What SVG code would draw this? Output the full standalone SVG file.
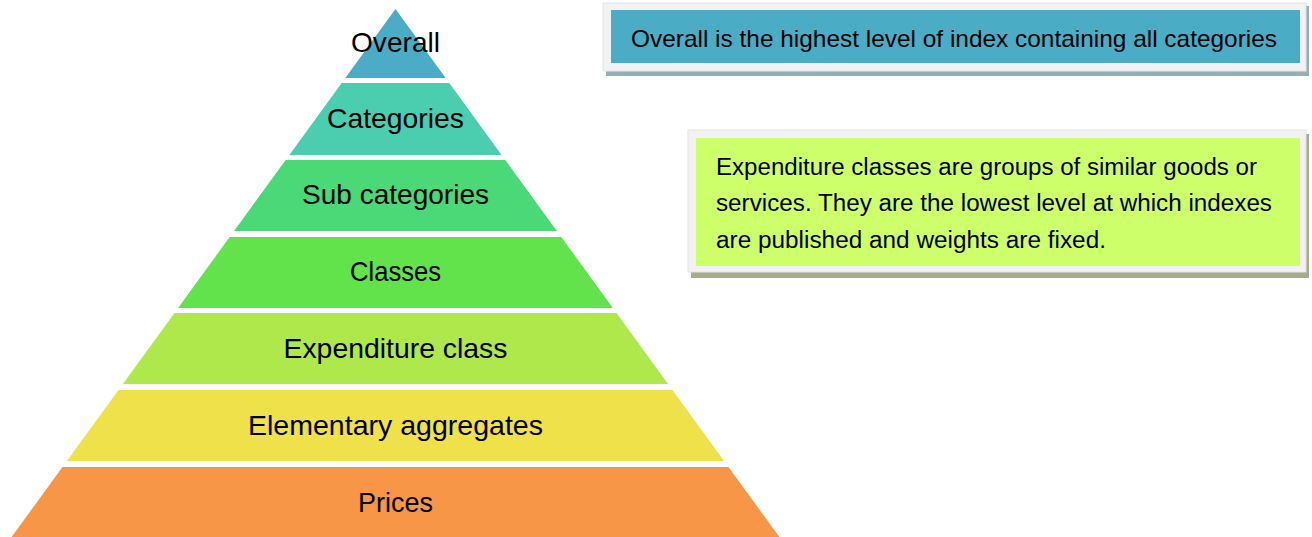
<svg xmlns="http://www.w3.org/2000/svg" width="1312" height="537" viewBox="0 0 1312 537">
<style>
.lvl{font-family:"Liberation Sans",Arial,sans-serif;font-size:28px;fill:#000;text-anchor:middle}
.note{font-family:"Liberation Sans",Arial,sans-serif;font-size:23px;fill:#000}
.frame{fill:#F2F2F2;stroke:#E4E4E4;stroke-width:1}
</style>
<rect width="1312" height="537" fill="#FFFFFF"/>
<g id="pyramid">
<g id="overall"><polygon points="395.5,9 445.7,78 345.3,78" fill="#4BACC6"/><text class="lvl" x="395.5" y="52" textLength="89" lengthAdjust="spacingAndGlyphs">Overall</text></g>
<g id="categories"><polygon points="341.7,83 449.3,83 501.6,155 289.4,155" fill="#4BCDB0"/><text class="lvl" x="395.5" y="128" textLength="137" lengthAdjust="spacingAndGlyphs">Categories</text></g>
<g id="subcategories"><polygon points="285.7,160 505.3,160 556.9,231 234.1,231" fill="#4BD977"/><text class="lvl" x="395.5" y="204" textLength="187" lengthAdjust="spacingAndGlyphs">Sub categories</text></g>
<g id="classes"><polygon points="229.7,237 561.3,237 612.9,308 178.1,308" fill="#62E24B"/><text class="lvl" x="395.5" y="281" textLength="91" lengthAdjust="spacingAndGlyphs">Classes</text></g>
<g id="expenditure"><polygon points="174.5,313 616.5,313 668.1,384 122.9,384" fill="#AEE84B"/><text class="lvl" x="395.5" y="358" textLength="224" lengthAdjust="spacingAndGlyphs">Expenditure class</text></g>
<g id="elementary"><polygon points="118.5,390 672.5,390 724.1,461 66.9,461" fill="#EFE149"/><text class="lvl" x="395.5" y="435" textLength="295" lengthAdjust="spacingAndGlyphs">Elementary aggregates</text></g>
<g id="prices"><polygon points="62.5,467 728.5,467 779.4,537 11.6,537" fill="#F79646"/><text class="lvl" x="395.5" y="512" textLength="75" lengthAdjust="spacingAndGlyphs">Prices</text></g>
</g>
<g id="note-overall">
<rect x="606" y="6" width="703" height="70" fill="#94AEBB"/>
<rect class="frame" x="603" y="3" width="703" height="68"/>
<rect x="611" y="10" width="689" height="53" fill="#4BACC6"/>
<text class="note" x="631" y="47" textLength="646" lengthAdjust="spacingAndGlyphs" style="font-size:24px">Overall is the highest level of index containing all categories</text>
</g>
<g id="note-expenditure">
<rect x="691" y="134" width="618" height="144" fill="#A6AD8F"/>
<rect class="frame" x="688" y="130" width="618" height="142"/>
<rect x="696" y="138" width="604" height="128" fill="#CDFF6A"/>
<text class="note" x="716" y="175" textLength="541" lengthAdjust="spacingAndGlyphs">Expenditure classes are groups of similar goods or</text>
<text class="note" x="716" y="211" textLength="556" lengthAdjust="spacingAndGlyphs">services. They are the lowest level at which indexes</text>
<text class="note" x="716" y="248" textLength="390" lengthAdjust="spacingAndGlyphs">are published and weights are fixed.</text>
</g>
<g id="connectors"/>
</svg>
